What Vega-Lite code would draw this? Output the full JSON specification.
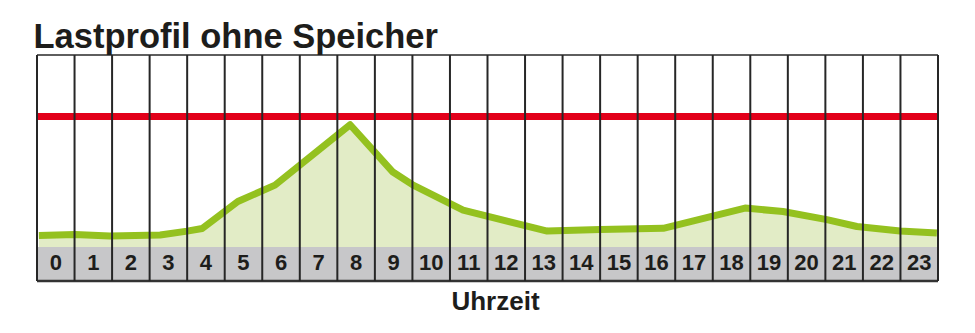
{
  "$schema": "https://vega.github.io/schema/vega-lite/v6.json",
  "width": 901,
  "height": 226,
  "autosize": {"type": "none"},
  "padding": {"left": 37, "top": 55, "right": 37, "bottom": 52},
  "title": {
    "text": "Lastprofil ohne Speicher",
    "anchor": "start",
    "font": "Liberation Sans",
    "fontSize": 34.5,
    "fontWeight": "bold",
    "color": "#1d1d1b",
    "baseline": "alphabetic",
    "offset": -28
  },
  "config": {"view": {"stroke": null}, "font": "Liberation Sans"},
  "datasets": {
    "load": [
      {"t": 0.05, "Last": 8.8},
      {"t": 1.01, "Last": 9.6},
      {"t": 1.94, "Last": 8.4},
      {"t": 3.28, "Last": 9.2},
      {"t": 4.0, "Last": 12.2},
      {"t": 4.4, "Last": 14.2},
      {"t": 5.35, "Last": 34.8},
      {"t": 6.34, "Last": 47.4},
      {"t": 8.34, "Last": 93.6},
      {"t": 9.48, "Last": 57.4},
      {"t": 10.02, "Last": 47.4},
      {"t": 11.35, "Last": 28.3},
      {"t": 13.59, "Last": 12.2},
      {"t": 15.0, "Last": 13.4},
      {"t": 16.68, "Last": 14.3},
      {"t": 18.86, "Last": 29.8},
      {"t": 19.87, "Last": 27.2},
      {"t": 21.04, "Last": 21.0},
      {"t": 21.84, "Last": 15.7},
      {"t": 22.99, "Last": 12.2},
      {"t": 23.97, "Last": 10.7}
    ],
    "limit": [{"Grenze": 100}],
    "hours": [
      {"hour": 0}, {"hour": 1}, {"hour": 2}, {"hour": 3}, {"hour": 4}, {"hour": 5},
      {"hour": 6}, {"hour": 7}, {"hour": 8}, {"hour": 9}, {"hour": 10}, {"hour": 11},
      {"hour": 12}, {"hour": 13}, {"hour": 14}, {"hour": 15}, {"hour": 16}, {"hour": 17},
      {"hour": 18}, {"hour": 19}, {"hour": 20}, {"hour": 21}, {"hour": 22}, {"hour": 23}
    ],
    "frame": [{"Rand": "oben"}]
  },
  "resolve": {"scale": {"x": "independent"}, "axis": {"x": "independent"}},
  "layer": [
    {
      "layer": [
        {
          "data": {"name": "load"},
          "mark": {"type": "area", "color": "#e2ecc6", "opacity": 1},
          "encoding": {
            "x": {"field": "t", "type": "quantitative", "scale": {"domain": [0, 24], "nice": false, "zero": false}, "axis": null},
            "y": {"field": "Last", "type": "quantitative", "scale": {"domain": [-26, 147], "nice": false, "zero": false}, "axis": null},
            "y2": {"datum": 0}
          }
        },
        {
          "data": {"name": "load"},
          "mark": {"type": "line", "color": "#94c11f", "strokeWidth": 7, "strokeJoin": "round", "strokeCap": "butt"},
          "encoding": {
            "x": {"field": "t", "type": "quantitative", "scale": {"domain": [0, 24], "nice": false, "zero": false}, "axis": null},
            "y": {"field": "Last", "type": "quantitative", "scale": {"domain": [-26, 147], "nice": false, "zero": false}, "axis": null}
          }
        },
        {
          "data": {"name": "limit"},
          "mark": {"type": "rule", "color": "#e2001a", "strokeWidth": 7},
          "encoding": {
            "y": {"field": "Grenze", "type": "quantitative", "scale": {"domain": [-26, 147], "nice": false, "zero": false}, "axis": null}
          }
        }
      ]
    },
    {
      "layer": [
        {
          "data": {"name": "hours"},
          "mark": {"type": "rect", "color": "#c7c7c9"},
          "encoding": {
            "x": {
              "field": "hour", "type": "ordinal",
              "scale": {"paddingInner": 0, "paddingOuter": 0},
              "axis": {
                "title": "Uhrzeit", "labels": false, "ticks": false, "domain": false, "grid": false,
                "titleFont": "Liberation Sans", "titleFontSize": 26, "titleFontWeight": "bold",
                "titleColor": "#1d1d1b", "titleBaseline": "alphabetic", "titleX": 458, "titleY": 28
              }
            },
            "y": {"datum": -26, "type": "quantitative", "scale": {"domain": [-26, 147], "nice": false, "zero": false}, "axis": null},
            "y2": {"datum": 0}
          }
        },
        {
          "data": {"name": "frame"},
          "mark": {"type": "rule", "color": "#5e5e5e", "strokeWidth": 2},
          "encoding": {
            "y": {"datum": 147, "type": "quantitative", "scale": {"domain": [-26, 147], "nice": false, "zero": false}, "axis": null}
          }
        },
        {
          "data": {"name": "frame"},
          "mark": {"type": "rule", "color": "#333333", "strokeWidth": 2.5},
          "encoding": {
            "y": {"datum": -26, "type": "quantitative", "scale": {"domain": [-26, 147], "nice": false, "zero": false}, "axis": null}
          }
        },
        {
          "data": {"name": "hours"},
          "mark": {"type": "rule", "color": "#262626", "strokeWidth": 2},
          "encoding": {
            "x": {"field": "hour", "type": "ordinal", "bandPosition": 0, "scale": {"paddingInner": 0, "paddingOuter": 0}},
            "y": {"datum": -26, "type": "quantitative", "scale": {"domain": [-26, 147], "nice": false, "zero": false}, "axis": null},
            "y2": {"datum": 147}
          }
        },
        {
          "data": {"name": "hours"},
          "transform": [{"filter": "datum.hour == 23"}],
          "mark": {"type": "rule", "color": "#262626", "strokeWidth": 2},
          "encoding": {
            "x": {"field": "hour", "type": "ordinal", "bandPosition": 1, "scale": {"paddingInner": 0, "paddingOuter": 0}},
            "y": {"datum": -26, "type": "quantitative", "scale": {"domain": [-26, 147], "nice": false, "zero": false}, "axis": null},
            "y2": {"datum": 147}
          }
        },
        {
          "data": {"name": "hours"},
          "mark": {"type": "text", "font": "Liberation Sans", "fontSize": 22, "fontWeight": "bold", "color": "#1d1d1b", "baseline": "middle", "align": "center"},
          "encoding": {
            "x": {"field": "hour", "type": "ordinal", "scale": {"paddingInner": 0, "paddingOuter": 0}},
            "y": {"datum": -12.3, "type": "quantitative", "scale": {"domain": [-26, 147], "nice": false, "zero": false}, "axis": null},
            "text": {"field": "hour", "type": "ordinal"}
          }
        }
      ]
    }
  ]
}
